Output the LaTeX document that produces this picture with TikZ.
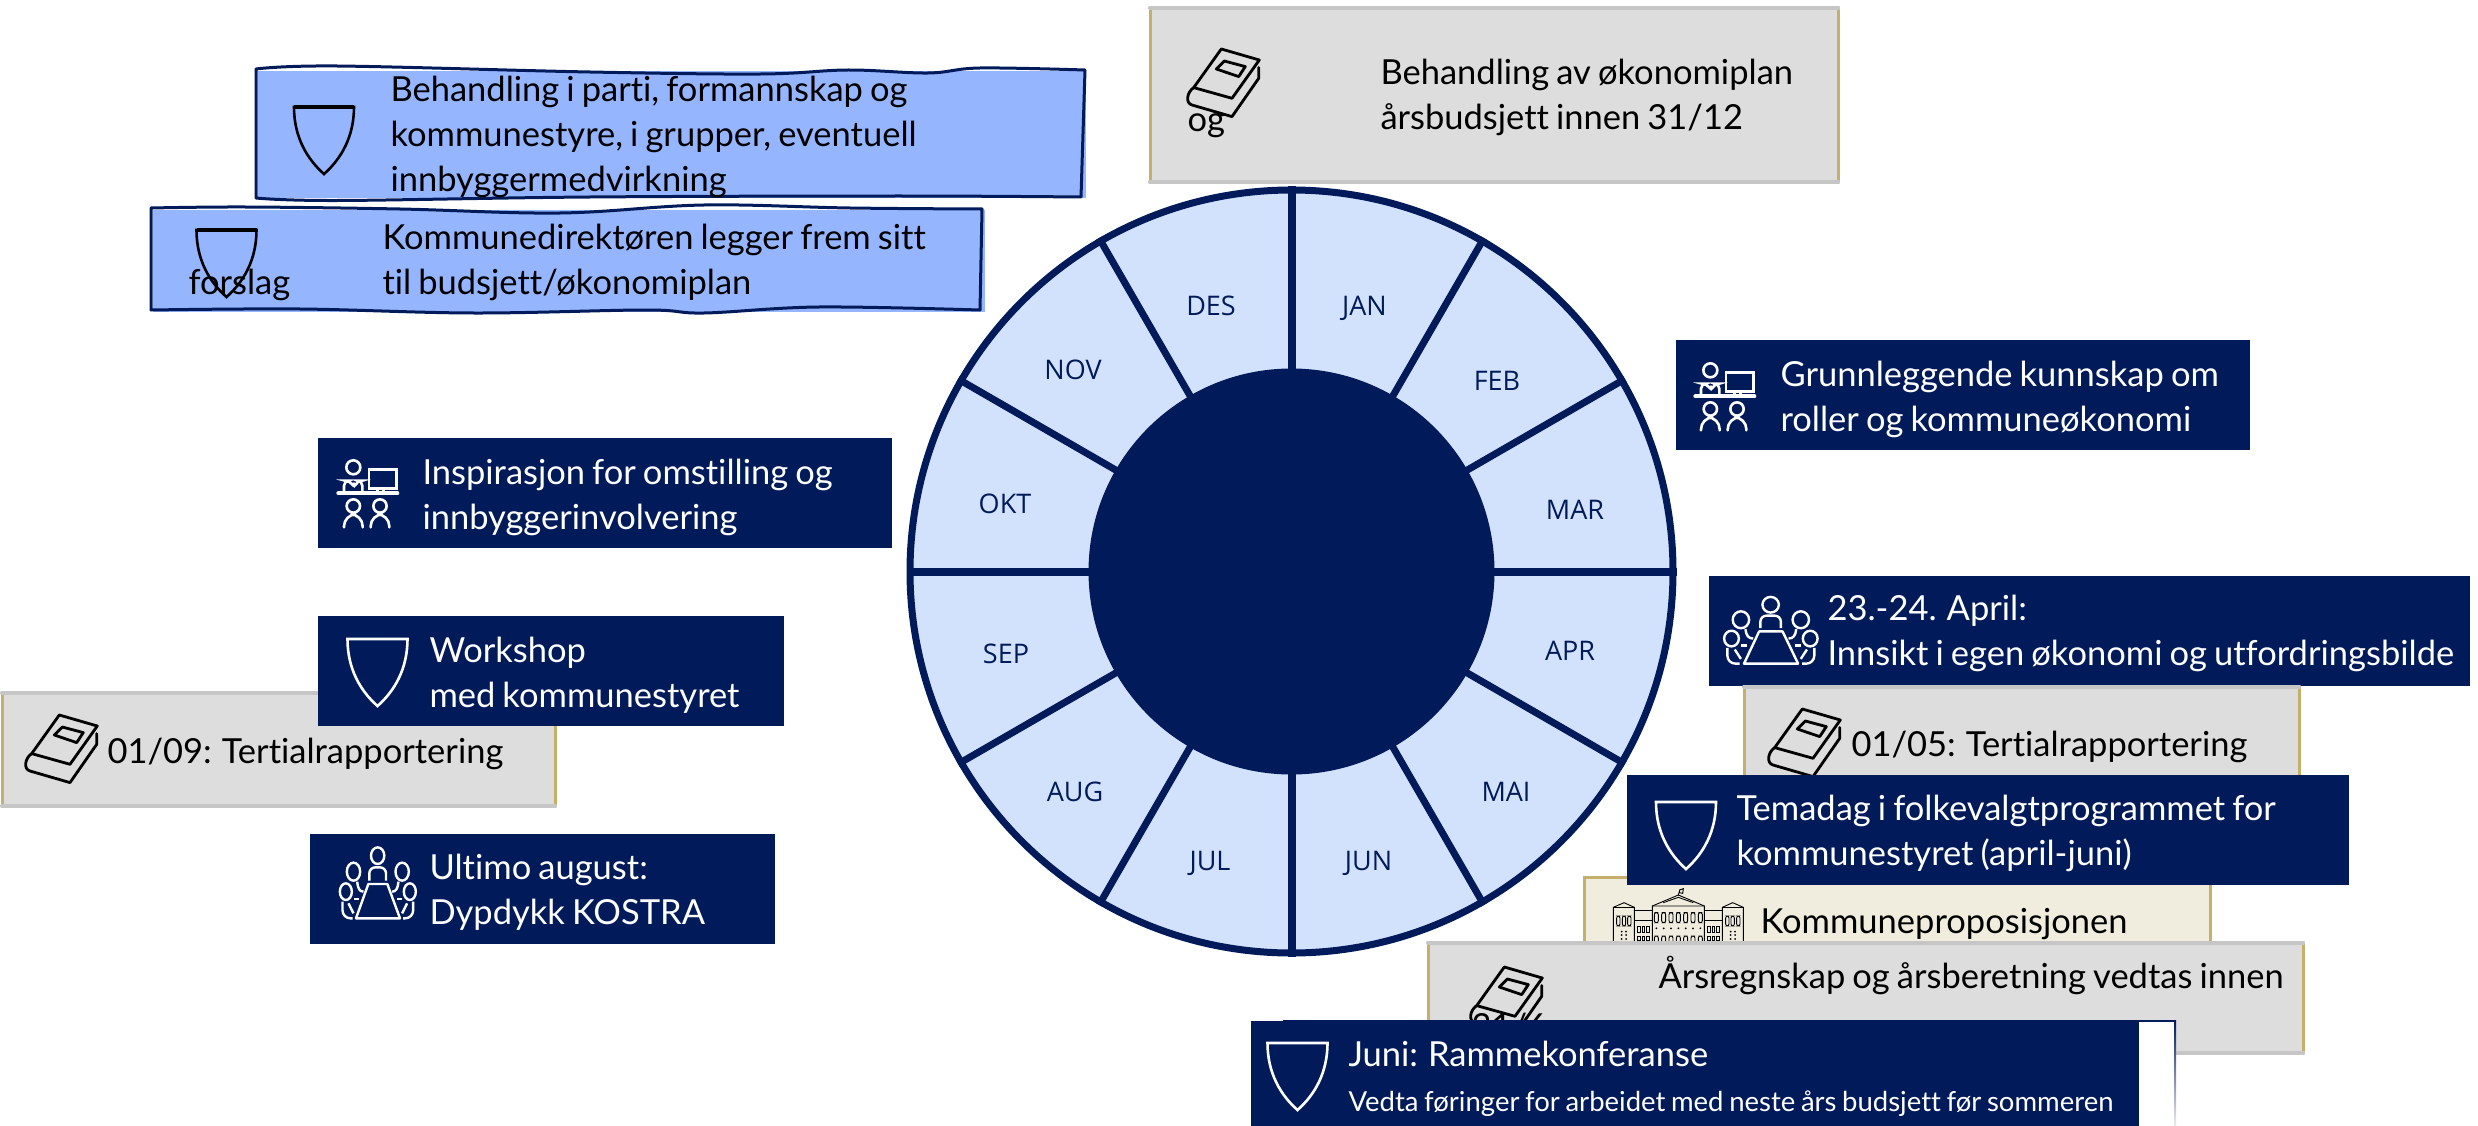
\documentclass[tikz,border=0pt]{standalone}
\usepackage{fontspec}
\usetikzlibrary{calc}
\setmainfont{Lato}[Ligatures=NoCommon,WordSpace=0.8]
\newfontfamily\monthfont{Open Sans}
\definecolor{navy}{HTML}{011B5A}
\definecolor{wheelfill}{HTML}{D3E2FC}
\definecolor{sketchblue}{HTML}{96B5FF}
\definecolor{panelgray}{HTML}{DDDDDD}
\definecolor{edgegold}{HTML}{C4B06A}
\definecolor{edgegray}{HTML}{C6C6C6}
\definecolor{panelcream}{HTML}{F0EDDF}
\pgfdeclarehorizontalshading{goldedge}{100bp}{color(0bp)=(edgegold); color(18bp)=(edgegray); color(82bp)=(edgegray); color(100bp)=(edgegold)}
\newcommand{\mltx}[1]{\begin{tabular}[t]{@{}l@{}}#1\end{tabular}}
\newcommand{\goldbox}[4]{%
  \fill[panelgray] (#1,#2) rectangle (#3,#4);
  \fill[edgegold] (#1-1.5,#2) rectangle (#1+1.5,#4);
  \fill[edgegold] (#3-1.5,#2) rectangle (#3+1.5,#4);
  \shade[shading=goldedge] (#1-1.5,#2-1.5) rectangle (#3+1.5,#2+1.5);
  \shade[shading=goldedge] (#1-1.5,#4-1.5) rectangle (#3+1.5,#4+1.5);
}
\tikzset{
  navybox/.style={fill=navy},
  lblw/.style={anchor=base west,inner sep=0pt,xshift=-2pt,yshift=-1.5pt,text=white,font=\fontsize{34.5}{45}\selectfont},
  lblk/.style={anchor=base west,inner sep=0pt,xshift=-2pt,yshift=-1.5pt,text=black,font=\fontsize{34.5}{45}\selectfont},
  month/.style={anchor=base,inner sep=0pt,yshift=-10pt,text=navy,font=\monthfont\fontsize{27}{30}\selectfont},
  shieldic/.pic={\draw[line join=miter] (-30,0)--(30,0) .. controls (30,30) and (17,52) .. (0,67) .. controls (-17,52) and (-30,30) .. (-30,0) -- cycle;},
  bookic/.pic={
    \draw[line join=round,line cap=round] (34.3,0)--(72.3,11)--(45,49.3)--(6.7,38.6)--cycle;
    \draw[line join=round,line cap=round] (6.7,38.6) .. controls (0,43) and (-2,54) .. (5,56)--(45,67.6)--(71.7,29.3)--(71.7,18.6);
    \draw[line join=round] (37.3,12)--(58.3,17.6)--(51.7,27.6)--(29.3,20)--cycle;
  },
  deskic/.pic={
    \draw (70,52) circle [radius=21];
    \draw[rounded corners=5] (42,124)--(42,92)--(60,92) .. controls (65,100) and (78,100) .. (82,92)--(97,92)--(97,124);
    \draw[line width=4,line cap=round] (25,130)--(202,130);
    \draw (117,58) rectangle (200,115);
    \draw (143,115)--(143,128) (160,115)--(160,128);
    \foreach \d in {0,80} {
      \draw (70+\d,168) circle [radius=20];
      \draw[rounded corners=12,line cap=round] (42+\d,232)--(42+\d,193)--(98+\d,193)--(98+\d,232);
    }
  },
  meetic/.pic={
    \draw (143,47) circle [x radius=20,y radius=25];
    \draw[rounded corners=6] (118,122)--(118,82)--(168,82)--(168,122);
    \draw[line join=round] (115,132)--(172,132)--(210,235)--(78,235)--cycle;
    \foreach \s in {1,-1} {
      \draw ({143.5+\s*73},95) circle [x radius=20,y radius=27];
      \draw ({143.5+\s*96},155) circle [x radius=18,y radius=25];
      \draw ({143.5+\s*62},125) .. controls ({143.5+\s*60},145) and ({143.5+\s*55},155) .. ({143.5+\s*43},155);
      \draw ({143.5+\s*58},177)--({143.5+\s*73},177);
      \draw[rounded corners=8] ({143.5+\s*106},185)--({143.5+\s*106},235)--({143.5+\s*76},235);
      \draw ({143.5+\s*88},190)--({143.5+\s*73},220);
    }
  },
  houseic/.pic={
    \draw (235,45)--(240,28) (238,30)--(250,26)--(248,40)--(239,38);
    \draw (157,200)--(157,78)--(235,45)--(313,78)--(313,200);
    \draw (157,78)--(313,78) (190,68)--(235,52)--(280,68);
    \foreach \s in {1,-1} {
      \draw ({235+\s*195},200)--({235+\s*195},82)--({235+\s*163},68)--({235+\s*132},82)--({235+\s*132},200);
      \draw ({235+\s*195},82)--({235+\s*132},82);
      \draw ({235+\s*132},92)--({235+\s*78},92) ({235+\s*132},120)--({235+\s*78},120);
      \foreach \k in {147,163,180} {\draw[rounded corners=2] ({235+\s*\k-5},108) rectangle ({235+\s*\k+5},138);}
      \foreach \k in {157,170} {
        \fill ({235+\s*\k},155) circle [radius=3]; \fill ({235+\s*\k},165) circle [radius=3]; \fill ({235+\s*\k},177) circle [radius=3];
      }
      \foreach \k in {92,105,118} {
        \draw ({235+\s*\k-4},138) rectangle ({235+\s*\k+4},158);
        \draw ({235+\s*\k-4},168) rectangle ({235+\s*\k+4},180);
      }
    }
    \foreach \k in {-66,-44,-22,0,22,44,66} {
      \draw[rounded corners=2] (235+\k-6,98) rectangle (235+\k+6,128);
      \fill (235+\k,145) circle [radius=3];
      \draw[rounded corners=2] (235+\k-6,168) rectangle (235+\k+6,205);
    }
  }
}
\begin{document}
\begin{tikzpicture}[x=1pt,y=-1pt,line width=3pt]
\useasboundingbox (0,0) rectangle (2478,1126);

% ---------- wheel
\coordinate (wc) at (1291.5,571.5);
\fill[wheelfill] (wc) circle [radius=382];
\draw[navy,line width=7pt] (wc) circle [radius=381.5];
\foreach \a in {30,60,120,150,210,240,300,330} {
  \draw[navy,line width=7pt] ($(wc)+(\a:200)$) -- ($(wc)+(\a:385)$);
}
\foreach \a in {0,90,180,270} {
  \draw[navy,line width=8pt] ($(wc)+(\a:200)$) -- ($(wc)+(\a:385)$);
}
\fill[navy] (wc) circle [radius=203];
\node[month] (mJan) at (1364.5,305) {JAN};
\node[month] (mFeb) at (1497,380) {FEB};
\node[month] (mMar) at (1575,509) {MAR};
\node[month] (mApr) at (1570,650) {APR};
\node[month] (mMai) at (1506,791) {MAI};
\node[month] (mJun) at (1368.5,860) {JUN};
\node[month] (mJul) at (1210,860) {JUL};
\node[month] (mAug) at (1075,791) {AUG};
\node[month] (mSep) at (1006,653) {SEP};
\node[month] (mOkt) at (1005,503) {OKT};
\node[month] (mNov) at (1073,369) {NOV};
\node[month] (mDes) at (1211,305) {DES};

% ---------- sketchy blue boxes
\fill[sketchblue] (258,71) rectangle (1086,198);
\draw[navy,line width=3pt,line join=round] plot[smooth,tension=.6] coordinates {(256,69) (337,66) (590,72) (761,74) (848,70) (928,73) (980,68) (1085,70)}
  -- plot[smooth,tension=.6] coordinates {(1081,197) (900,196) (590,197) (337,200.5) (256,198)} -- cycle;
\pic[black,line width=2.6pt] at (324,107) {shieldic};
\draw[black,line width=4pt] (294,107)--(354,107);
\node[lblk] (tA) at (391,100) {\mltx{Behandling i parti, formannskap og\\kommunestyre, i grupper, eventuell\\innbyggermedvirkning}};

\fill[sketchblue] (153,210) rectangle (985,312);
\draw[navy,line width=3pt,line join=round] plot[smooth,tension=.6] coordinates {(151,208) (245,207) (400,209) (560,213) (704,205) (850,208) (982,209)}
  -- plot[smooth,tension=.6] coordinates {(980,310) (819,307) (704,313) (646,310) (474,313) (300,309) (151,310)} -- cycle;
\pic[black,line width=2.6pt] at (226.5,230) {shieldic};
\draw[black,line width=4pt] (196.5,230)--(256.5,230);
\node[lblk] (tB) at (383,248) {\mltx{Kommunedirektøren legger frem sitt\\til budsjett/økonomiplan}};
\node[lblk] (tBb) at (189,293) {forslag};

% ---------- grey top box
\goldbox{1150}{8}{1838}{182}
\pic[black,line width=2.8pt,scale=1] at (1187,49) {bookic};
\node[lblk] (tC) at (1381,83) {\mltx{Behandling av økonomiplan\\årsbudsjett innen 31/12}};
\node[lblk] (tCb) at (1188,130) {og};

% ---------- navy boxes top
\fill[navybox] (1676,340) rectangle (2250,450);
\pic[white,line width=2.6pt,scale=.3333] at (1687,353) {deskic};
\node[lblw] (tD) at (1781,385) {\mltx{Grunnleggende kunnskap om\\roller og kommuneøkonomi}};

\fill[navybox] (318,438) rectangle (892,548);
\pic[white,line width=2.6pt,scale=.3333] at (330,450) {deskic};
\node[lblw] (tE) at (423,483) {\mltx{Inspirasjon for omstilling og\\innbyggerinvolvering}};

% ---------- left group
\goldbox{2}{693}{555}{806}
\pic[black,line width=2.8pt] at (25,715) {bookic};
\node[lblk] (tF) at (108,762) {01/09: Tertialrapportering};

\fill[navybox] (318,616) rectangle (784,726);
\pic[white,line width=2.6pt] at (377.5,639) {shieldic};
\node[lblw] (tG) at (430,661) {\mltx{Workshop\\med kommunestyret}};

\fill[navybox] (310,834) rectangle (775,944);
\pic[white,line width=2.4pt,scale=.3333] at (330,840) {meetic};
\node[lblw] (tH) at (430,878) {\mltx{Ultimo august:\\Dypdykk KOSTRA}};

% ---------- right group
\fill[navybox] (1709,576) rectangle (2470,686);
\pic[white,line width=2.4pt,xscale=.41,yscale=.3133] at (1712,590) {meetic};
\node[lblw] (tI) at (1828,619) {\mltx{23.-24. April:\\Innsikt i egen økonomi og utfordringsbilde}};

\goldbox{1744}{687}{2299}{790}
\pic[black,line width=2.8pt] at (1768,709) {bookic};
\node[lblk] (tJ) at (1852,755) {01/05: Tertialrapportering};

\fill[panelcream] (1584,877) rectangle (2210,950);
\fill[edgegold] (1582.5,875.5) rectangle (2211.5,878.5);
\fill[edgegold] (1582.5,877) rectangle (1585.5,950);
\fill[edgegold] (2209,877) rectangle (2212,950);
\pic[black,line width=.9pt,scale=.3333] at (1600,880) {houseic};
\node[lblk] (tK) at (1761,932) {Kommuneproposisjonen};

\fill[navybox] (1627,775) rectangle (2349,885);
\pic[white,line width=2.6pt] at (1686,802) {shieldic};
\node[lblw] (tL) at (1737,819) {\mltx{Temadag i folkevalgtprogrammet for\\kommunestyret (april-juni)}};

\goldbox{1428}{943}{2303}{1053}
\pic[black,line width=2.8pt] at (1470,967) {bookic};
\node[lblk] (tM) at (1659,987) {Årsregnskap og årsberetning vedtas innen};
\node[lblk] (tMb) at (1472,1037) {31/6};

% ---------- bottom box
\fill[white] (1283,1021) rectangle (2175,1126);
\fill[navy] (1283,1020) rectangle (2175,1022);
\shade[top color=navy,bottom color=navy!8] (2174,1020) rectangle (2176,1126);
\fill[navybox] (1251,1021) rectangle (2139,1126);
\pic[white,line width=2.6pt] at (1297.5,1043) {shieldic};
\node[lblw] (tN) at (1349,1065) {Juni: Rammekonferanse};
\node[lblw,font=\fontsize{27.5}{30}\selectfont] (tO) at (1349,1110) {Vedta føringer for arbeidet med neste års budsjett før sommeren};
\end{tikzpicture}
\end{document}
